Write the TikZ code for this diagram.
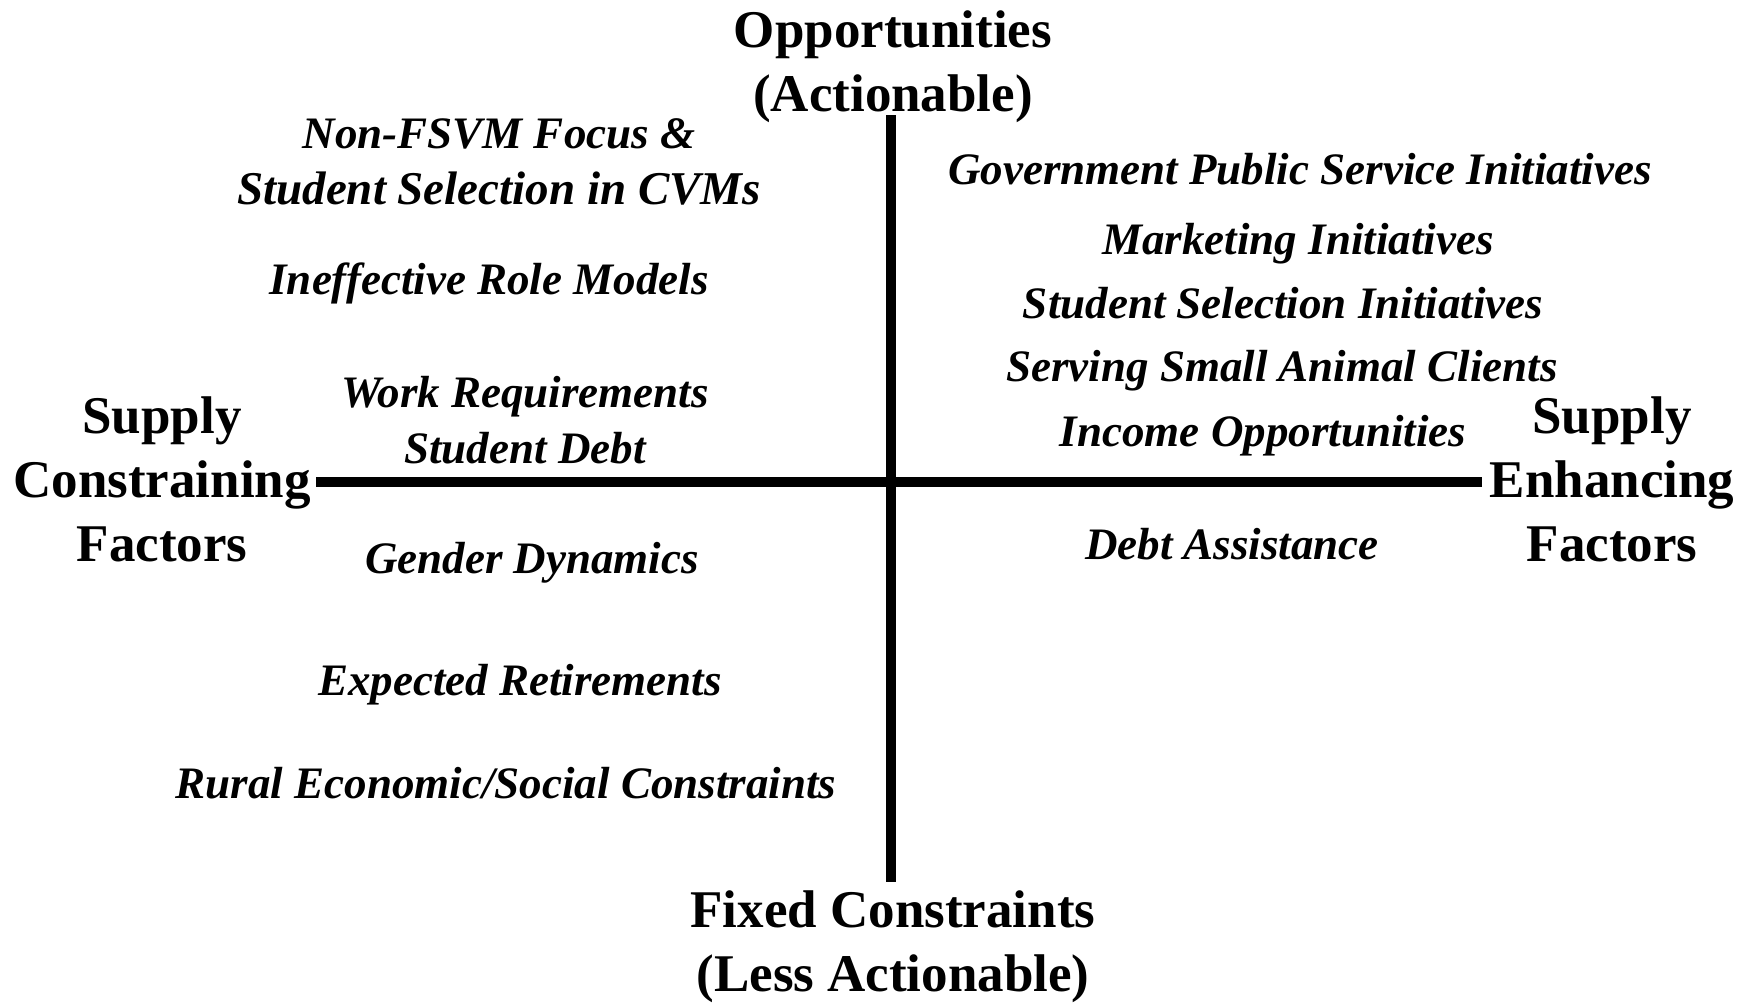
\documentclass[tikz,border=0pt]{standalone}
\usepackage{fontspec}
\setmainfont{Liberation Serif}
\usepackage{tikz}

\tikzset{
  axislbl/.style={align=center, inner sep=0pt,
    font=\fontsize{53}{64}\selectfont\bfseries},
  factor/.style={align=center, inner sep=0pt,
    font=\fontsize{45}{56}\selectfont\bfseries\itshape},
  axisline/.style={line width=10pt}
}

\begin{document}
\begin{tikzpicture}[x=1pt,y=-1pt]
\useasboundingbox (0,0) rectangle (1750,1002);
% axis labels
\node [axislbl] (opp) at (893,67) {Opportunities\\(Actionable)};
\node [axislbl] (fix) at (893,947) {Fixed Constraints\\(Less Actionable)};
\node [axislbl] (con) at (162,479) {Supply\\Constraining\\Factors};
\node [axislbl] (enh) at (1612,479) {Supply\\Enhancing\\Factors};
% axes
\coordinate (top) at (891,115);
\coordinate (bot) at (891,882);
\coordinate (lft) at (316,481.5);
\coordinate (rgt) at (1482,481.5);
\draw [axisline] (top) -- (bot);
\draw [axisline] (lft) -- (rgt);
% constraining factors
\node [factor] (nonf) at (499,162) {Non-FSVM Focus \&\\{\fontsize{47}{56}\selectfont Student Selection in CVMs}};
\node [factor] (role) at (489,283) {Ineffective Role Models};
\node [factor] (work) at (525,420) {Work Requirements\\Student Debt};
\node [factor] (gend) at (532,563) {Gender Dynamics};
\node [factor] (reti) at (520,685) {Expected Retirements};
\node [factor] (rura) at (506,783) {Rural Economic/Social Constraints};
% enhancing factors
\node [factor] (govt) at (1300,169) {Government Public Service Initiatives};
\node [factor] (mark) at (1298,244) {Marketing Initiatives};
\node [factor] (stud) at (1283,303) {Student Selection Initiatives};
\node [factor] (serv) at (1282,371) {Serving Small Animal Clients};
\node [factor] (inco) at (1263,436) {Income Opportunities};
\node [factor] (debt) at (1232,544) {Debt Assistance};
\end{tikzpicture}
\end{document}
